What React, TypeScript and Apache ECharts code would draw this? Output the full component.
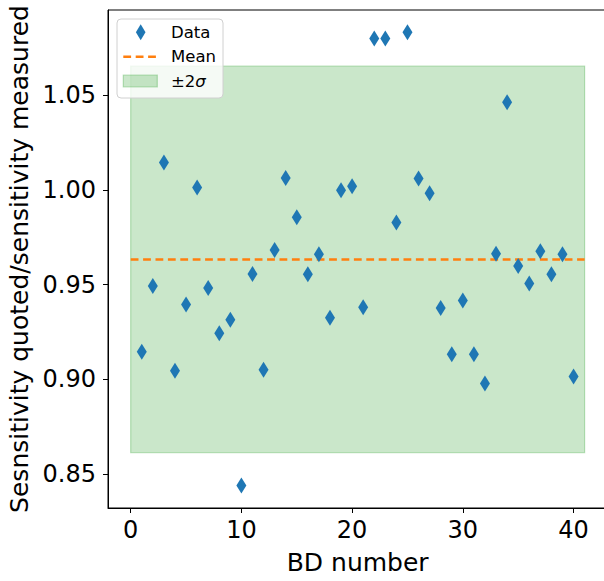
import React, { useEffect, useRef } from "react";
import * as echarts from "echarts";

const bdNumbers = [
  1, 2, 3, 4, 5, 6, 7, 8, 9, 10, 11, 12, 13, 14, 15, 16, 17, 18, 19, 20,
  21, 22, 23, 24, 25, 26, 27, 28, 29, 30, 31, 32, 33, 34, 35, 36, 37, 38, 39, 40,
];
const ratios = [
  0.9145, 0.9492, 1.0145, 0.9044, 0.9394, 1.0013, 0.9482, 0.9243, 0.9314, 0.8438,
  0.9556, 0.905, 0.9683, 1.0063, 0.9856, 0.9554, 0.966, 0.9325, 0.9998, 1.002,
  0.938, 1.0801, 1.0801, 0.9828, 1.0833, 1.006, 0.9983, 0.9376, 0.9131, 0.9416,
  0.9131, 0.8977, 0.9663, 1.0464, 0.9598, 0.9505, 0.9676, 0.9554, 0.966, 0.9014,
];
const meanValue = 0.9633;
const twoSigma = 0.1022;
const bandX = [0, 41];
const xTicks = [0, 10, 20, 30, 40];
const yTicks = [0.85, 0.9, 0.95, 1.0, 1.05];
const legendLabels = ["Data", "Mean", "±2σ"];

const FONT = "'DejaVu Sans', sans-serif";

export default function App() {
  const ref = useRef<HTMLDivElement>(null);
  useEffect(() => {
    if (!ref.current) return;
    const chart = echarts.init(ref.current, undefined, { renderer: "svg" });
    const lx = 117;
    const ly = 19;
    const rows = [32.3, 56.7, 81];
    chart.setOption({
      animation: false,
      backgroundColor: "#ffffff",
      textStyle: { fontFamily: FONT },
      grid: {
        left: 108,
        top: 10,
        width: 499.3,
        height: 498,
        outerBoundsMode: "none",
        containLabel: false,
        show: true,
        borderColor: "#000000",
        borderWidth: 1,
        backgroundColor: "transparent",
      },
      xAxis: {
        type: "value",
        min: -2.05,
        max: 43.05,
        name: "BD number",
        nameLocation: "middle",
        nameGap: 42,
        nameTextStyle: { fontSize: 25, color: "#000", fontFamily: FONT },
        axisLine: { show: true, onZero: false, lineStyle: { color: "#000", width: 1 } },
        axisTick: {
          show: true,
          customValues: xTicks,
          length: 5,
          lineStyle: { color: "#000", width: 1 },
        },
        axisLabel: {
          customValues: xTicks,
          fontSize: 24,
          color: "#000",
          fontFamily: FONT,
          margin: 10,
        },
        splitLine: { show: false },
      },
      yAxis: {
        type: "value",
        min: 0.8319,
        max: 1.0951,
        name: "Sesnsitivity quoted/sensitivity measured",
        nameLocation: "middle",
        nameRotate: 90,
        nameGap: 70,
        nameTextStyle: { fontSize: 25, color: "#000", fontFamily: FONT },
        axisLine: { show: true, onZero: false, lineStyle: { color: "#000", width: 1 } },
        axisTick: {
          show: true,
          customValues: yTicks,
          length: 5,
          lineStyle: { color: "#000", width: 1 },
        },
        axisLabel: {
          customValues: yTicks,
          fontSize: 24,
          color: "#000",
          fontFamily: FONT,
          margin: 12,
          formatter: (v: number) => v.toFixed(2),
        },
        splitLine: { show: false },
      },
      series: [
        {
          name: "Mean",
          type: "line",
          data: bandX.map((x) => [x, meanValue]),
          symbol: "none",
          z: 2,
          lineStyle: { color: "#ff7f0e", width: 2.5, type: [7.8, 4.6] },
          markArea: {
            silent: true,
            itemStyle: {
              color: "rgba(44,160,44,0.25)",
              borderColor: "rgba(44,160,44,0.3)",
              borderWidth: 1.2,
            },
            data: [
              [
                { coord: [bandX[0], meanValue - twoSigma] },
                { coord: [bandX[1], meanValue + twoSigma] },
              ],
            ],
          },
        },
        {
          name: "Data",
          type: "scatter",
          data: bdNumbers.map((x, i) => [x, ratios[i]]),
          symbol: "diamond",
          symbolSize: [10, 16],
          z: 3,
          itemStyle: { color: "#1f77b4", opacity: 1 },
        },
      ],
      graphic: [
        {
          type: "rect",
          z: 100,
          shape: { x: lx, y: ly, width: 106, height: 79, r: 4 },
          style: { fill: "rgba(255,255,255,0.8)", stroke: "#d0d0d0", lineWidth: 1 },
        },
        {
          type: "polygon",
          z: 101,
          shape: {
            points: [
              [140.7, rows[0] - 8],
              [145.5, rows[0]],
              [140.7, rows[0] + 8],
              [135.9, rows[0]],
            ],
          },
          style: { fill: "#1f77b4" },
        },
        {
          type: "line",
          z: 101,
          shape: { x1: 123.3, y1: rows[1], x2: 157.3, y2: rows[1] },
          style: { stroke: "#ff7f0e", lineWidth: 2.5, lineDash: [7.8, 4.6] },
        },
        {
          type: "rect",
          z: 101,
          shape: { x: 123.3, y: rows[2] - 6, width: 34, height: 12 },
          style: {
            fill: "rgba(44,160,44,0.25)",
            stroke: "rgba(44,160,44,0.3)",
            lineWidth: 1.2,
          },
        },
        ...legendLabels.map((t, i) => ({
          type: "text",
          z: 101,
          x: 171,
          y: rows[i],
          style:
            i === 2
              ? {
                  text: "{a|±2}{b|σ}",
                  fill: "#000",
                  font: `16.5px ${FONT}`,
                  verticalAlign: "middle",
                  rich: {
                    a: { fontSize: 16.5, fontFamily: FONT, fill: "#000" },
                    b: {
                      fontSize: 16.5,
                      fontFamily: FONT,
                      fontStyle: "italic",
                      fill: "#000",
                    },
                  },
                }
              : {
                  text: t,
                  fill: "#000",
                  font: `16.5px ${FONT}`,
                  verticalAlign: "middle",
                },
        })),
      ],
    });
    return () => chart.dispose();
  }, []);
  return (
    <div
      ref={ref}
      style={{ position: "fixed", left: 0, top: 0, width: 604, height: 581 }}
    />
  );
}
